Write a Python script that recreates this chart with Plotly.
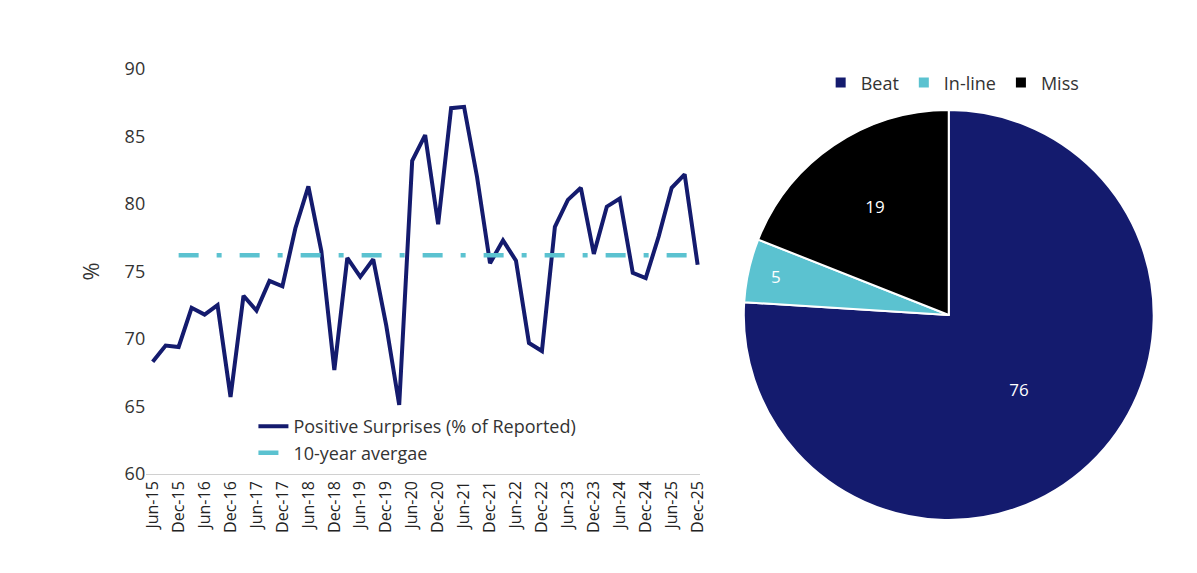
import plotly.graph_objects as go

quarters = []
for yr in range(15, 26):
    for m in ["Mar", "Jun", "Sep", "Dec"]:
        quarters.append("%s-%d" % (m, yr))
quarters = quarters[1:]  # Jun-15 .. Dec-25

surprises = [68.3, 69.5, 69.4, 72.3, 71.8, 72.5, 65.7, 73.2, 72.1, 74.3, 73.9,
             78.2, 81.3, 76.5, 67.7, 76.0, 74.6, 75.9, 71.0, 65.1, 83.2, 85.1,
             78.5, 87.1, 87.2, 82.0, 75.6, 77.3, 75.8, 69.7, 69.1, 78.3, 80.3,
             81.2, 76.3, 79.8, 80.4, 74.9, 74.5, 77.6, 81.2, 82.2, 75.5]
avg_value = 76.2
avg_x = quarters[2:]
avg_y = [avg_value] * len(avg_x)
tick_labels = quarters[::2]

pie_labels = ["Beat", "In-line", "Miss"]
pie_values = [76, 5, 19]
navy = "#141b6e"
cyan = "#5bc2d0"

fig = go.Figure()
fig.add_trace(go.Scatter(x=quarters, y=surprises, mode="lines", name="Positive Surprises (% of Reported)",
                         line=dict(color=navy, width=4)))
fig.add_trace(go.Scatter(x=avg_x, y=avg_y, mode="lines", name="10-year avergae",
                         line=dict(color=cyan, width=4.5, dash="20px,18px,5px,18px")))
fig.add_trace(go.Pie(labels=pie_labels, values=pie_values, sort=False, direction="clockwise", rotation=0,
                     marker=dict(colors=[navy, cyan, "#000000"], line=dict(color="white", width=2)),
                     textinfo="value", textposition="inside", insidetextfont=dict(color="white", size=17),
                     domain=dict(x=[0.605, 0.972], y=[0.041, 0.840]), legend="legend2"))

fig.update_layout(
    width=1197, height=573, plot_bgcolor="white", paper_bgcolor="white",
    font=dict(family="Open Sans", size=18, color="#333333"),
    margin=dict(l=60, r=20, t=20, b=40, autoexpand=False),
    xaxis=dict(domain=[0.070, 0.566], type="category", tickmode="array", tickvals=tick_labels,
               tickangle=-90, showline=True, linecolor="#d0d0d0", ticks="", showgrid=False,
               range=[-0.5, 42.2], tickfont=dict(size=16, color="#222222")),
    yaxis=dict(domain=[0.131, 0.920], range=[60, 90], dtick=5, showgrid=False, showline=False,
               ticks="", zeroline=False, title=dict(text="%", standoff=18)),
    legend=dict(x=0.166, y=0.259, xanchor="left", yanchor="top", bgcolor="rgba(0,0,0,0)",
                font=dict(size=18), tracegroupgap=0),
    legend2=dict(orientation="h", x=0.792, y=0.893, xanchor="center", yanchor="middle",
                 font=dict(size=18)),
)

fig.write_html("out.html")
